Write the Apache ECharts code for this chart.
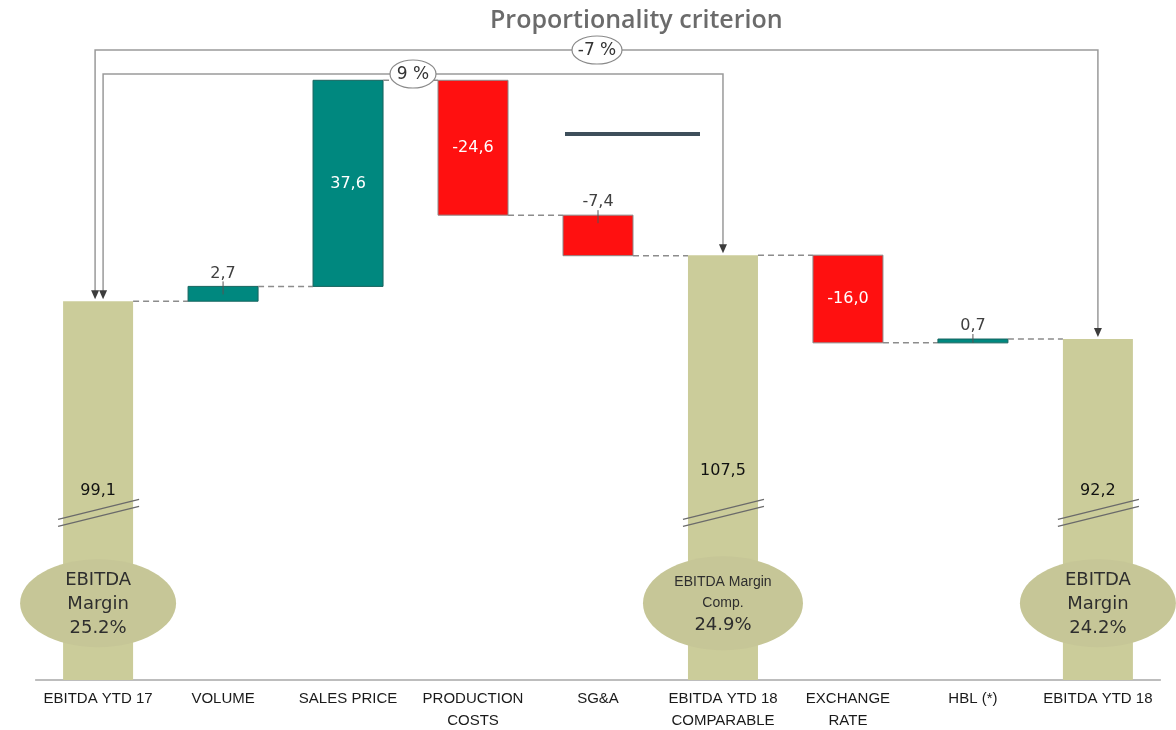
<!DOCTYPE html>
<html>
<head>
<meta charset="utf-8">
<script src="https://cdn.jsdelivr.net/npm/echarts@6/dist/echarts.min.js"></script>
<style>
  html, body { margin: 0; padding: 0; background: #fff; }
  #main { width: 1176px; height: 730px; }
</style>
</head>
<body>
<div id="main"></div>
<script>
// data
const categories = ['EBITDA YTD 17', 'VOLUME', 'SALES PRICE', 'PRODUCTION\nCOSTS', 'SG&A',
    'EBITDA YTD 18\nCOMPARABLE', 'EXCHANGE\nRATE', 'HBL (*)', 'EBITDA YTD 18'];
const values = [99.1, 2.7, 37.6, -24.6, -7.4, 107.5, -16.0, 0.7, 92.2];
const isTotal = [true, false, false, false, false, true, false, false, true];
const marginTitles = ['EBITDA\nMargin', 'EBITDA Margin\nComp.', 'EBITDA\nMargin'];
const marginValues = ['25.2%', '24.9%', '24.2%'];
const comparisons = [
    { from: 0, to: 8, label: '-7 %' },
    { from: 0, to: 5, label: '9 %' }
];

const AXIS_BASE = 30;   // axis is broken, bars start here
const BREAK_AT = 60.5;
const ELLIPSE_AT = 44;
const BAR_W = 70;

const COLORS = {
    up: '#00887f',
    upBorder: '#17645f',
    down: '#ff1010',
    downBorder: '#8a8a8a',
    total: '#cbcc9a',
    ellipse: '#c6c697'
};

const fmt = v => v.toFixed(1).replace('.', ',');

let run = AXIS_BASE;
const seriesData = values.map((v, i) => {
    if (isTotal[i]) {
        run = v;
        return [i, AXIS_BASE, v];
    }
    const lo = Math.min(run, run + v), hi = Math.max(run, run + v);
    run += v;
    return [i, lo, hi];
});

const chart = echarts.init(document.getElementById('main'));

function renderItem(params, api) {
    const i = api.value(0), lo = api.value(1), hi = api.value(2);
    const v = values[i];
    const pTop = api.coord([i, hi]);
    const pBot = api.coord([i, lo]);
    const cx = pTop[0], top = pTop[1], bottom = pBot[1];
    const h = Math.max(bottom - top, 2);
    const children = [];

    let fill = COLORS.total, stroke = null;
    if (!isTotal[i]) {
        fill = v >= 0 ? COLORS.up : COLORS.down;
        stroke = v >= 0 ? COLORS.upBorder : COLORS.downBorder;
    }
    children.push({
        type: 'rect',
        shape: { x: cx - BAR_W / 2, y: top, width: BAR_W, height: h },
        style: { fill: fill, stroke: stroke, lineWidth: stroke ? 1 : 0 }
    });

    // connector to next bar
    if (i < values.length - 1) {
        const end = (isTotal[i] || v >= 0) ? hi : lo;
        const pe = api.coord([i, end]);
        const nx = api.coord([i + 1, end])[0];
        children.push({
            type: 'line',
            shape: { x1: cx + BAR_W / 2, y1: pe[1], x2: nx - BAR_W / 2, y2: pe[1] },
            style: { stroke: '#8c8c8c', lineWidth: 1.5, lineDash: [6, 4] }
        });
    }

    if (isTotal[i]) {
        const k = isTotal.slice(0, i).filter(Boolean).length;
        const by = api.coord([i, BREAK_AT])[1];
        // break marks
        [-3.5, 3.5].forEach(d => {
            children.push({
                type: 'line',
                shape: { x1: cx - 40, y1: by + 10 + d, x2: cx + 41, y2: by - 10 + d },
                style: { stroke: '#6a6a6a', lineWidth: 1.2 }
            });
        });
        children.push({
            type: 'text',
            style: {
                text: fmt(v), x: cx, y: by - (k === 1 ? 42 : 22),
                align: 'center', verticalAlign: 'middle',
                fill: '#111', font: '16px "DejaVu Sans", sans-serif'
            }
        });
        // margin ellipse
        const ey = api.coord([i, ELLIPSE_AT])[1];
        const small = k === 1;
        children.push({
            type: 'ellipse',
            shape: { cx: cx, cy: ey, rx: small ? 80 : 78, ry: small ? 47 : 44 },
            style: { fill: COLORS.ellipse }
        });
        children.push({
            type: 'text',
            style: {
                text: small
                    ? '{s|' + marginTitles[k].split('\n').join('}\n{s|') + '}\n{b|' + marginValues[k] + '}'
                    : '{b|' + marginTitles[k].split('\n').join('}\n{b|') + '}\n{b|' + marginValues[k] + '}',
                x: cx, y: ey + 1, align: 'center', verticalAlign: 'middle',
                rich: {
                    s: { font: '14px "Liberation Sans Narrow", "Liberation Sans", sans-serif', fill: '#2e2e2e', lineHeight: 21, align: 'center' },
                    b: { font: '18px "DejaVu Sans", sans-serif', fill: '#2e2e2e', lineHeight: 24, align: 'center' }
                }
            }
        });
    } else {
        const inside = h > 50;
        if (inside) {
            children.push({
                type: 'text',
                style: {
                    text: fmt(v), x: cx, y: (top + bottom) / 2,
                    align: 'center', verticalAlign: 'middle',
                    fill: '#fff', font: '16px "DejaVu Sans", sans-serif'
                }
            });
        } else {
            children.push({
                type: 'text',
                style: {
                    text: fmt(v), x: cx, y: top - 13,
                    align: 'center', verticalAlign: 'middle',
                    fill: '#404040', font: '16px "DejaVu Sans", sans-serif'
                }
            });
            children.push({
                type: 'line',
                shape: { x1: cx, y1: top - 5, x2: cx, y2: Math.min(top + 8, bottom) },
                style: { stroke: '#555', lineWidth: 1 }
            });
        }
    }
    return { type: 'group', children: children };
}

const option = {
    animation: false,
    title: {
        text: 'Proportionality criterion',
        left: 485, top: 3,
        textStyle: { color: '#6b6b6b', fontSize: 25, fontWeight: 600, fontFamily: '"Open Sans", sans-serif' }
    },
    grid: { left: 35.6, right: 15.6, top: 77, bottom: 50, outerBoundsMode: 'none' },
    xAxis: {
        type: 'category',
        data: categories,
        axisLine: { lineStyle: { color: '#a8a8a8', width: 1.5 } },
        axisTick: { show: false },
        axisLabel: {
            interval: 0, color: '#1a1a1a', fontSize: 15, lineHeight: 22, margin: 8,
            fontFamily: '"Liberation Sans Narrow", "Liberation Sans", sans-serif'
        }
    },
    yAxis: { type: 'value', min: AXIS_BASE, max: 140, show: false },
    series: [{
        type: 'custom',
        renderItem: renderItem,
        encode: { x: 0, y: [1, 2] },
        data: seriesData,
        z: 2
    }]
};

chart.setOption(option);

// comparison brackets with arrows
const px = (i, v) => chart.convertToPixel({ xAxisIndex: 0, yAxisIndex: 0 }, [i, v]);
const graphics = [];
const bracketY = [50, 74];
const bracketDx = [-3, 5];
const labelX = [597, 413];
comparisons.forEach((c, n) => {
    const a = px(c.from, values[c.from]);
    const b = px(c.to, values[c.to]);
    const ax = a[0] + bracketDx[n], bx = b[0];
    const y = bracketY[n];
    graphics.push({
        type: 'polyline', z: 10,
        shape: { points: [[ax, a[1] - 9], [ax, y], [bx, y], [bx, b[1] - 9]] },
        style: { stroke: '#9a9a9a', lineWidth: 1.5, fill: null }
    });
    [[ax, a[1] - 2], [bx, b[1] - 2]].forEach(t => {
        graphics.push({
            type: 'polygon', z: 11,
            shape: { points: [[t[0] - 4, t[1] - 9], [t[0] + 4, t[1] - 9], [t[0], t[1]]] },
            style: { fill: '#3c3c3c' }
        });
    });
    graphics.push({
        type: 'ellipse', z: 12,
        shape: { cx: labelX[n], cy: y, rx: n === 0 ? 25 : 23, ry: 14 },
        style: { fill: '#fff', stroke: '#8a8a8a', lineWidth: 1.2 }
    });
    graphics.push({
        type: 'text', z: 13,
        style: {
            text: c.label, x: labelX[n], y: y + 1, align: 'center', verticalAlign: 'middle',
            fill: '#333', font: '17px "DejaVu Sans", sans-serif'
        }
    });
});
// stray dark rule in the source
graphics.push({
    type: 'line', z: 5,
    shape: { x1: 565, y1: 134, x2: 700, y2: 134 },
    style: { stroke: '#3e4f5b', lineWidth: 4 }
});
chart.setOption({ graphic: graphics });
</script>
</body>
</html>
